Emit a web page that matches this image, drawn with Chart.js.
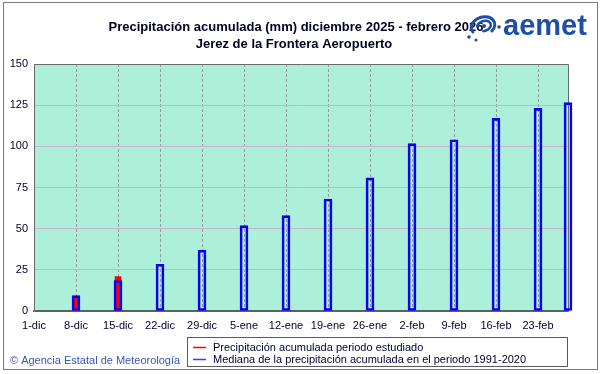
<!DOCTYPE html>
<html><head><meta charset="utf-8">
<script src="https://cdn.jsdelivr.net/npm/chart.js@4.4.1/dist/chart.umd.min.js"></script>
<style>html,body{margin:0;padding:0;background:#fff;overflow:hidden}#wrap{width:601px;height:374px;position:relative}</style>
</head><body><div id="wrap"><canvas id="c" width="601" height="374"></canvas></div>
<script>
const titleLines = ['Precipitación acumulada (mm) diciembre 2025 - febrero 2026', 'Jerez de la Frontera Aeropuerto'];
const tickDays = [0, 7, 14, 21, 28, 35, 42, 49, 56, 63, 70, 77, 84];
const tickLabels = ['1-dic', '8-dic', '15-dic', '22-dic', '29-dic', '5-ene', '12-ene', '19-ene', '26-ene', '2-feb', '9-feb', '16-feb', '23-feb'];
const medianDays = [7, 14, 21, 28, 35, 42, 49, 56, 63, 70, 77, 84, 89];
const medianValues = [9.3, 18.4, 28.4, 37.0, 51.8, 57.9, 68.0, 80.8, 101.6, 104.0, 117.0, 123.1, 126.5];
const observedDays = [7, 14];
const observedValues = [9.0, 20.9];
const seriesLabels = ['Precipitación acumulada periodo estudiado', 'Mediana de la precipitación acumulada en el periodo 1991-2020'];
const logoText = 'aemet';
const creditText = '© Agencia Estatal de Meteorología';
const FONT = '"Liberation Sans", Arial, sans-serif';

const decor = {
  id: 'decor',
  beforeDraw(chart) {
    const {ctx, chartArea: a} = chart;
    ctx.save();
    ctx.fillStyle = '#ffffff';
    ctx.fillRect(0, 0, chart.width, chart.height);
    ctx.fillStyle = '#adf0da';
    ctx.fillRect(a.left, a.top, a.right - a.left, a.bottom - a.top);
    ctx.restore();
  },
  beforeDatasetsDraw(chart) {
    const {ctx, chartArea: a} = chart;
    ctx.save();
    ctx.strokeStyle = '#6a6a6a';
    ctx.lineWidth = 1;
    ctx.beginPath();
    ctx.moveTo(a.left + 0.5, a.bottom);
    ctx.lineTo(a.left + 0.5, a.top + 0.5);
    ctx.lineTo(a.right + 0.5, a.top + 0.5);
    ctx.lineTo(a.right + 0.5, a.bottom);
    ctx.stroke();
    ctx.restore();
  },
  afterDraw(chart) {
    const {ctx} = chart;
    ctx.save();
    // title
    ctx.fillStyle = '#000022';
    ctx.font = 'bold 13px ' + FONT;
    ctx.textAlign = 'center';
    ctx.textBaseline = 'middle';
    ctx.fillText(titleLines[0], 296, 27);
    ctx.fillText(titleLines[1], 294, 44);
    // logo icon
    ctx.strokeStyle = '#1f4fa3';
    ctx.fillStyle = '#1f4fa3';
    ctx.lineCap = 'round';
    ctx.lineWidth = 3;
    ctx.beginPath(); ctx.ellipse(483, 26, 12, 9, -0.3, Math.PI * 0.9, Math.PI * 2.3); ctx.stroke();
    ctx.lineWidth = 2.5;
    ctx.beginPath(); ctx.ellipse(484, 26, 7, 5, -0.3, Math.PI * 1.1, Math.PI * 2.6); ctx.stroke();
    ctx.beginPath(); ctx.arc(484, 26, 2, 0, Math.PI * 2); ctx.fill();
    ctx.beginPath(); ctx.arc(469, 37, 1.8, 0, Math.PI * 2); ctx.fill();
    ctx.beginPath(); ctx.arc(499, 27, 1.8, 0, Math.PI * 2); ctx.fill();
    ctx.beginPath(); ctx.arc(476, 40, 1.5, 0, Math.PI * 2); ctx.fill();
    // logo text
    ctx.font = 'bold 29px ' + FONT;
    ctx.textAlign = 'left';
    ctx.textBaseline = 'alphabetic';
    ctx.fillText(logoText, 503, 35);
    // legend
    ctx.lineCap = 'butt';
    ctx.strokeStyle = '#5a5a5a';
    ctx.lineWidth = 1;
    ctx.strokeRect(187.5, 337.5, 380, 29);
    ctx.lineWidth = 1.5;
    ctx.strokeStyle = '#ff0000';
    ctx.beginPath(); ctx.moveTo(193, 347.5); ctx.lineTo(206, 347.5); ctx.stroke();
    ctx.strokeStyle = '#3a3aff';
    ctx.beginPath(); ctx.moveTo(193, 359.5); ctx.lineTo(206, 359.5); ctx.stroke();
    ctx.fillStyle = '#000033';
    ctx.font = '11px ' + FONT;
    ctx.textBaseline = 'middle';
    ctx.fillText(chart.data.datasets[0].label, 213, 347.5);
    ctx.fillText(chart.data.datasets[1].label, 213, 359.5);
    // credit
    ctx.fillStyle = '#3556c0';
    ctx.font = '11px ' + FONT;
    ctx.fillText(creditText, 10, 361);
    // outer frame
    ctx.strokeStyle = '#7a7a7a';
    ctx.lineWidth = 1;
    ctx.strokeRect(3.5, 2.5, 594, 367);
    ctx.restore();
  }
};

new Chart(document.getElementById('c'), {
  type: 'bar',
  data: {
    datasets: [
      {
        label: seriesLabels[0],
        data: observedDays.map((d, i) => ({x: d, y: observedValues[i]})),
        backgroundColor: '#ff0000',
        borderWidth: 0,
        barThickness: 6,
        grouped: false,
        order: 1
      },
      {
        label: seriesLabels[1],
        data: medianDays.map((d, i) => ({x: d, y: medianValues[i]})),
        backgroundColor: 'rgba(0,0,0,0)',
        borderColor: '#0000ff',
        borderWidth: 2,
        borderSkipped: false,
        barThickness: 8,
        grouped: false,
        clip: false,
        order: 0
      }
    ]
  },
  options: {
    responsive: false,
    animation: false,
    devicePixelRatio: 1,
    layout: {padding: {top: 64, right: 33, bottom: 0, left: 0}},
    plugins: {legend: {display: false}, tooltip: {enabled: false}, title: {display: false}},
    scales: {
      x: {
        type: 'linear',
        offset: false,
        min: 0,
        max: 89,
        afterBuildTicks: s => { s.ticks = tickDays.map(v => ({value: v})); },
        afterFit: s => { s.height = 63; },
        ticks: {
          autoSkip: false,
          maxRotation: 0,
          padding: 8,
          color: '#000033',
          font: {family: FONT, size: 11},
          callback: v => tickLabels[tickDays.indexOf(v)]
        },
        grid: {offset: false, color: '#9a9a9a', lineWidth: 1, drawTicks: false},
        border: {display: true, color: '#606060', width: 2, dash: [3, 2]}
      },
      y: {
        min: 0,
        max: 150,
        afterFit: s => { s.width = 34; },
        ticks: {
          stepSize: 25,
          padding: 6,
          color: '#000033',
          font: {family: FONT, size: 11}
        },
        grid: {color: '#c8b4c8', lineWidth: 1, drawTicks: false},
        border: {display: true, color: '#8a8a8a', width: 1, dash: []}
      }
    }
  },
  plugins: [decor]
});
</script></body></html>
